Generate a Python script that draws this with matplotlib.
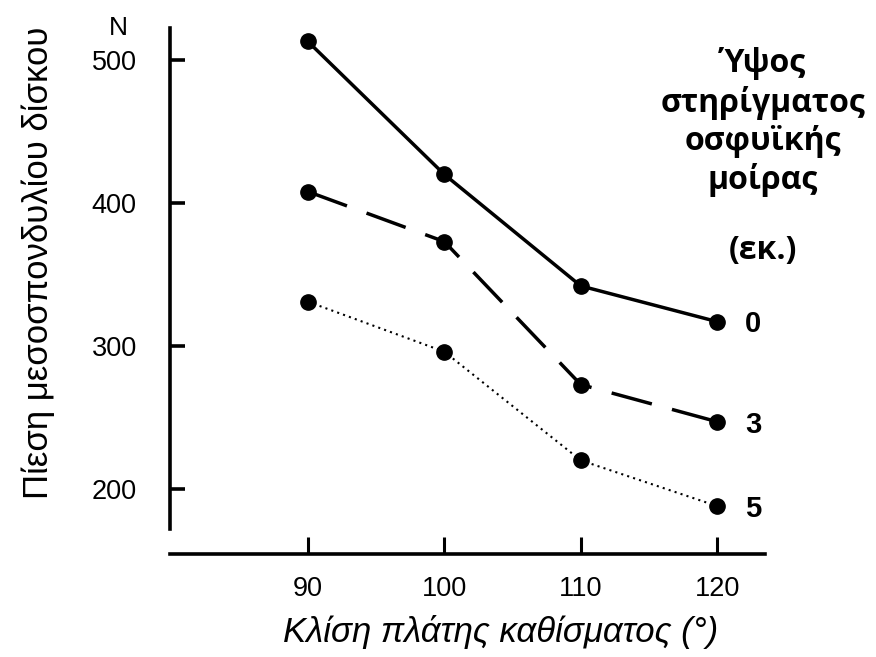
import matplotlib.pyplot as plt

plt.rcParams['font.family'] = ['Liberation Sans', 'DejaVu Sans']

# data
angle = [90, 100, 110, 120]
support_0 = [513, 420, 342, 317]
support_3 = [408, 373, 273, 247]
support_5 = [331, 296, 220, 188]
heights = ['0', '3', '5']

W, H = 876, 657
fig = plt.figure(figsize=(W / 100, H / 100), dpi=100)
ax = fig.add_axes([170 / W, 1 - 554 / H, 595 / W, 526 / H])

ax.plot(angle, support_0, color='black', lw=2.5, marker='o', ms=11)
ax.plot(angle, support_3, color='black', lw=2.5, marker='o', ms=11,
        dashes=(12, 6))
ax.plot(angle, support_5, color='black', lw=1.5, marker='o', ms=11,
        dashes=(1, 2))

for series, lab in zip([support_0, support_3, support_5], heights):
    ax.annotate(lab, xy=(angle[-1], series[-1]), xytext=(26, -2),
                textcoords='offset points', ha='center', va='center',
                fontsize=21, fontweight='bold')

ax.set_xlim(79.9, 123.5)
ax.set_ylim(154.5, 522.4)
ax.set_xticks(angle)
ax.set_yticks([200, 300, 400, 500])

ax.spines['top'].set_visible(False)
ax.spines['right'].set_visible(False)
ax.spines['left'].set_linewidth(2.6)
ax.spines['bottom'].set_linewidth(2.6)
ax.spines['left'].set_bounds(172, 522.4)

ax.tick_params(axis='y', direction='in', length=11, width=2.6, pad=24,
               labelsize=19.5)
ax.tick_params(axis='x', direction='in', length=12, width=2.2, pad=16,
               labelsize=19.5)

fig.text(118 / W, 1 - 28 / H, 'N', ha='center', va='center', fontsize=19)
fig.text(38 / W, 1 - 263 / H, 'Πίεση μεσοσπονδυλίου δίσκου', rotation=90,
         ha='center', va='center', fontsize=25)
fig.text(501 / W, 1 - 632 / H, 'Κλίση πλάτης καθίσματος (°)',
         ha='center', va='center', fontsize=25, style='italic')

fig.text(763 / W, 1 - 122 / H, 'Ύψος\nστηρίγματος\nοσφυϊκής\nμοίρας',
         ha='center', va='center', fontsize=23, fontweight='bold',
         family=['Open Sans', 'DejaVu Sans'], linespacing=1.2)
fig.text(763 / W, 1 - 250 / H, '(εκ.)', ha='center', va='center',
         fontsize=23, fontweight='bold', family=['Open Sans', 'DejaVu Sans'])

fig.savefig('out.png', dpi=100)
